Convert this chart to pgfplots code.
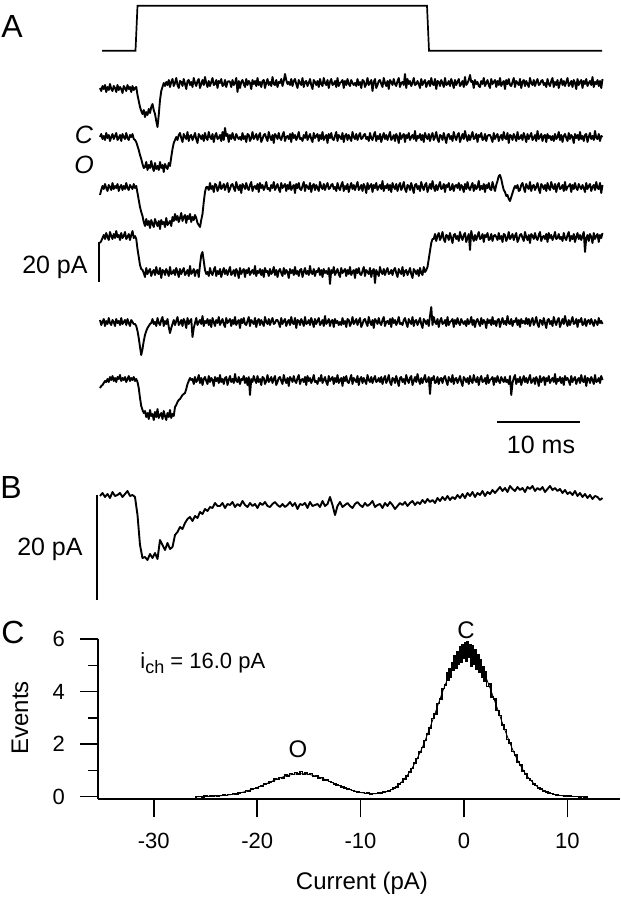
\documentclass[border=0pt]{standalone}
\usepackage{fontspec}
\setmainfont{Liberation Sans}
\usepackage{pgfplots}
\pgfplotsset{compat=1.18}
\usepackage{pgfplotstable}
\tikzset{trace/.style={black, line width=0.95pt, line join=round}}
\newcommand{\labfont}{\fontsize{12.5}{14}\selectfont}
\newcommand{\histfont}{\fontsize{12}{14}\selectfont}
\newcommand{\tickfont}{\fontsize{11}{13}\selectfont}
\newcommand{\panfont}{\fontsize{16}{18}\selectfont}

\pgfplotstableread{
x y
-26.00 0.00
-25.75 0.01
-25.50 0.01
-25.25 0.00
-25.00 0.02
-24.75 0.01
-24.50 0.03
-24.25 0.02
-24.00 0.04
-23.75 0.03
-23.50 0.05
-23.25 0.06
-23.00 0.05
-22.75 0.09
-22.50 0.08
-22.25 0.12
-22.00 0.11
-21.75 0.15
-21.50 0.17
-21.25 0.16
-21.00 0.23
-20.75 0.21
-20.50 0.29
-20.25 0.31
-20.00 0.34
-19.75 0.39
-19.50 0.41
-19.25 0.48
-19.00 0.50
-18.75 0.56
-18.50 0.58
-18.25 0.67
-18.00 0.66
-17.75 0.74
-17.50 0.72
-17.25 0.83
-17.00 0.79
-16.75 0.88
-16.50 0.84
-16.25 0.93
-16.00 0.86
-15.75 0.97
-15.50 0.85
-15.25 0.91
-15.00 0.84
-14.75 0.88
-14.50 0.78
-14.25 0.80
-14.00 0.72
-13.75 0.74
-13.50 0.64
-13.25 0.63
-13.00 0.58
-12.75 0.55
-12.50 0.49
-12.25 0.45
-12.00 0.42
-11.75 0.37
-11.50 0.33
-11.25 0.30
-11.00 0.27
-10.75 0.24
-10.50 0.20
-10.25 0.19
-10.00 0.16
-9.75 0.17
-9.50 0.12
-9.25 0.14
-9.00 0.11
-8.75 0.13
-8.50 0.12
-8.25 0.15
-8.00 0.14
-7.75 0.18
-7.50 0.20
-7.25 0.22
-7.00 0.28
-6.75 0.33
-6.50 0.38
-6.25 0.49
-6.00 0.55
-5.75 0.68
-5.50 0.79
-5.25 0.95
-5.00 1.08
-4.75 1.29
-4.50 1.46
-4.25 1.71
-4.00 1.88
-3.75 2.14
-3.50 2.38
-3.25 2.62
-3.00 2.98
-2.75 3.14
-2.50 3.55
-2.25 3.72
-2.00 4.12
-1.750 4.25
-1.625 4.70
-1.500 4.45
-1.375 4.85
-1.250 4.55
-1.125 5.10
-1.000 4.80
-0.875 5.35
-0.750 4.90
-0.625 5.50
-0.500 5.05
-0.375 5.70
-0.250 5.10
-0.125 5.80
0.000 5.25
0.125 5.85
0.250 5.15
0.375 5.90
0.500 5.30
0.625 5.80
0.750 4.95
0.875 5.75
1.000 5.05
1.125 5.60
1.250 4.85
1.375 5.40
1.500 4.75
1.625 5.20
1.750 4.55
1.875 4.95
2.000 4.40
2.125 4.75
2.250 4.20
2.50 4.28
2.75 3.80
3.00 3.72
3.25 3.28
3.50 3.10
3.75 2.72
4.00 2.56
4.25 2.18
4.50 2.05
4.75 1.72
5.00 1.58
5.25 1.33
5.50 1.20
5.75 0.98
6.00 0.87
6.25 0.70
6.50 0.62
6.75 0.49
7.00 0.43
7.25 0.34
7.50 0.29
7.75 0.22
8.00 0.19
8.25 0.14
8.50 0.12
8.75 0.09
9.00 0.07
9.25 0.05
9.50 0.05
9.75 0.03
10.00 0.03
10.25 0.02
10.50 0.01
10.75 0.01
11.00 0.01
11.25 0.00
11.50 0.01
11.75 0.00
12.00 0.00
}\histdata

\pgfplotstableread{
x y
-26 0.004
-25 0.011
-24 0.027
-23 0.059
-22 0.119
-21 0.216
-20 0.351
-19 0.517
-18 0.684
-17 0.816
-16 0.878
-15 0.851
-14 0.744
-13 0.585
-12 0.415
-11 0.269
-10 0.165
-9 0.117
-8 0.142
-7 0.273
-6 0.568
-5 1.097
-4 1.90
-3 2.94
-2 4.06
-1 4.99
0 5.47
1 5.35
2 4.66
3 3.62
4 2.50
5 1.545
6 0.85
7 0.417
8 0.182
9 0.071
10 0.025
11 0.008
12 0.002
}\fitdata

\begin{document}
\begin{tikzpicture}[x=1pt,y=1pt]
\path[use as bounding box] (0pt,0pt) rectangle (310.5pt,450pt);
\begin{axis}[at={(0pt,0pt)}, anchor=south west, width=310.5pt, height=450pt,
  scale only axis, xmin=0, xmax=621, ymin=0, ymax=900, y dir=reverse,
  hide axis, clip=false]
% stimulus step
\addplot[black, line width=0.85pt] coordinates {(102,50.7) (135.5,50.7) (137.5,5.7) (427,5.7) (429,50.7) (602,50.7)};
% trace 1
\addplot[trace] table[row sep=\\, header=false, x expr=100+1.25*\coordindex, y expr=\thisrowno{0}+83] {
5\\8\\3\\6\\2\\9\\4\\7\\1\\6\\8\\3\\5\\9\\2\\7\\4\\6\\10\\3\\5\\8\\2\\6\\4\\9\\3\\7\\5\\4\\
12\\18\\24\\28\\31\\27\\34\\29\\32\\26\\30\\24\\21\\27\\31\\38\\44\\32\\17\\8\\4\\0\\3\\-1\\
2\\-3\\4\\-1\\-4\\3\\0\\-5\\2\\5\\-2\\-1\\3\\-4\\1\\6\\-2\\-3\\2\\-1\\4\\-5\\0\\3\\-2\\-4\\5\\1\\-3\\2\\-6\\0\\4\\-2\\3\\-1\\-5\\2\\1\\-3\\5\\-2\\0\\-4\\3\\2\\-3\\4\\-1\\-2\\
-1\\4\\-3\\2\\0\\-5\\9\\-2\\5\\-1\\-3\\1\\4\\-4\\2\\-2\\0\\6\\-3\\1\\-2\\3\\-5\\2\\-1\\4\\-2\\-3\\5\\0\\-4\\2\\-1\\3\\-6\\1\\2\\-3\\4\\-1\\0\\-4\\3\\-2\\-9\\-3\\1\\-1\\2\\-4\\
3\\-2\\-4\\1\\5\\-3\\0\\2\\-5\\4\\-1\\-2\\3\\0\\-4\\2\\6\\-3\\-1\\2\\-2\\4\\-4\\1\\3\\-5\\0\\2\\-3\\5\\-1\\-4\\2\\1\\-2\\4\\-5\\3\\0\\-1\\-3\\5\\-2\\2\\-4\\1\\3\\-3\\0\\2\\
0\\3\\-4\\2\\-1\\5\\-3\\-2\\4\\1\\-5\\2\\0\\-3\\8\\-1\\-4\\5\\2\\-2\\-3\\1\\4\\-5\\0\\3\\-2\\6\\-3\\-1\\2\\-4\\1\\3\\-2\\-5\\4\\0\\-1\\2\\-9\\5\\-4\\1\\-2\\3\\0\\-5\\2\\1\\
-2\\1\\5\\-4\\2\\-1\\-3\\4\\0\\-2\\3\\-5\\1\\2\\-4\\6\\-2\\-1\\3\\-3\\0\\4\\-5\\2\\1\\-2\\3\\-4\\0\\5\\-3\\2\\-1\\-4\\3\\1\\-2\\4\\-6\\2\\0\\-3\\-8\\-1\\-2\\5\\-3\\1\\-1\\3\\
4\\-2\\1\\-5\\3\\0\\-3\\2\\5\\-4\\1\\-1\\-3\\4\\-2\\2\\-5\\3\\0\\-2\\6\\-3\\1\\-4\\2\\3\\-1\\-5\\4\\-2\\0\\2\\-4\\5\\-1\\-3\\3\\-2\\1\\4\\-5\\0\\2\\-3\\3\\-1\\-4\\2\\1\\-2\\
-3\\2\\0\\4\\-4\\1\\3\\-2\\-5\\4\\-1\\2\\-3\\5\\0\\-4\\2\\-2\\3\\-1\\-5\\3\\1\\-2\\4\\-3\\0\\6\\-4\\2\\-1\\-3\\5\\-2\\1\\-4\\3\\0\\-2\\2\\-6\\4\\-1\\1\\-3\\3\\-2\\5\\-4\\
};
% trace 2
\addplot[trace] table[row sep=\\, header=false, x expr=100+1.25*\coordindex, y expr=\thisrowno{0}+137] {
0\\-3\\2\\-1\\3\\-4\\1\\-2\\4\\0\\-3\\2\\-1\\-4\\3\\1\\-2\\4\\-3\\0\\2\\-4\\1\\3\\-2\\0\\-3\\2\\
3\\5\\9\\13\\18\\22\\27\\31\\30\\25\\33\\28\\31\\24\\30\\34\\26\\32\\29\\33\\25\\31\\28\\35\\27\\30\\32\\26\\29\\20\\12\\6\\3\\0\\
3\\-2\\-4\\1\\5\\-3\\0\\2\\-5\\4\\-1\\-2\\3\\0\\-4\\2\\6\\-3\\-1\\2\\-2\\4\\-4\\1\\3\\-5\\0\\2\\-3\\5\\-1\\-4\\2\\1\\-2\\4\\-5\\3\\-9\\-1\\-3\\5\\-2\\2\\-4\\1\\3\\-3\\0\\2\\
0\\3\\-4\\2\\-1\\5\\-3\\-2\\4\\1\\-5\\2\\0\\-3\\3\\-1\\-4\\5\\2\\-2\\-3\\1\\4\\-5\\0\\3\\-2\\6\\-3\\-1\\2\\-4\\1\\3\\-2\\-5\\4\\0\\-1\\2\\-3\\5\\-4\\1\\-2\\3\\0\\-5\\2\\1\\
4\\-2\\1\\-5\\3\\0\\-3\\2\\5\\-4\\1\\-1\\-3\\4\\-2\\2\\-5\\3\\0\\-2\\6\\-3\\1\\-4\\2\\3\\-1\\-5\\4\\-2\\0\\2\\-4\\5\\-1\\-3\\3\\-2\\1\\4\\-5\\0\\2\\-3\\3\\-1\\-4\\2\\1\\-2\\
-3\\2\\0\\4\\-4\\1\\3\\-2\\-5\\4\\-1\\2\\-3\\5\\0\\-4\\2\\-2\\3\\-1\\-5\\3\\1\\-2\\4\\-3\\0\\6\\-4\\2\\-1\\-3\\5\\-2\\1\\-4\\3\\0\\-2\\2\\-6\\4\\-1\\1\\-3\\3\\-2\\5\\-4\\0\\
2\\-3\\4\\-1\\-4\\3\\0\\-5\\2\\5\\-2\\-1\\3\\-4\\1\\6\\-2\\-3\\2\\-1\\4\\-5\\0\\3\\-2\\-4\\5\\1\\-3\\2\\-6\\0\\4\\-2\\3\\-1\\-5\\2\\1\\-3\\5\\-2\\0\\-4\\3\\2\\-3\\4\\-1\\-2\\
-2\\1\\5\\-4\\2\\-1\\-3\\4\\0\\-2\\3\\-5\\1\\2\\-4\\6\\-2\\-1\\3\\-3\\0\\4\\-5\\2\\1\\-2\\3\\-4\\0\\5\\-3\\2\\-1\\-4\\3\\1\\-2\\4\\-6\\2\\0\\-3\\4\\-1\\-2\\5\\-3\\1\\-1\\3\\
-1\\4\\-3\\2\\0\\-5\\3\\-2\\5\\-1\\-3\\1\\4\\-4\\2\\-2\\0\\6\\-3\\1\\-2\\3\\-5\\2\\-1\\4\\-2\\-3\\5\\0\\-4\\2\\-1\\3\\-6\\1\\2\\-3\\4\\-1\\0\\
};
% trace 3
\addplot[trace] table[row sep=\\, header=false, x expr=100+1.25*\coordindex, y expr=\thisrowno{0}+187] {
8\\3\\-1\\2\\-3\\1\\4\\-2\\0\\3\\-4\\2\\-1\\1\\-3\\4\\0\\-2\\3\\-1\\2\\-4\\1\\3\\-2\\0\\2\\-3\\1\\-1\\
6\\13\\20\\25\\29\\
35\\39\\32\\38\\34\\41\\33\\37\\40\\32\\36\\39\\34\\42\\33\\37\\35\\40\\31\\38\\36\\34\\39\\
30\\34\\27\\33\\29\\35\\31\\26\\34\\30\\28\\36\\29\\32\\27\\35\\30\\33\\28\\31\\36\\38\\
40\\33\\27\\15\\5\\0\\
0\\3\\-4\\2\\-1\\5\\-3\\-2\\4\\1\\-5\\2\\0\\-3\\3\\-1\\-4\\5\\2\\-2\\-3\\1\\4\\-5\\0\\3\\-2\\6\\-3\\-1\\2\\-4\\1\\3\\-2\\-5\\4\\0\\-1\\2\\-3\\5\\-4\\1\\-2\\3\\0\\-5\\2\\1\\
4\\-2\\1\\-5\\3\\0\\-3\\2\\5\\-4\\1\\-1\\-3\\4\\-2\\2\\-5\\3\\0\\-2\\6\\-3\\1\\-4\\2\\3\\-1\\-5\\4\\-2\\0\\2\\-4\\5\\-1\\-3\\3\\-2\\1\\4\\-5\\0\\2\\-3\\3\\-1\\-4\\2\\1\\-2\\
-3\\2\\0\\4\\-4\\1\\3\\-2\\-5\\4\\-1\\2\\-3\\5\\0\\-4\\2\\-2\\3\\-1\\-5\\3\\1\\-2\\4\\-3\\0\\6\\-4\\2\\-1\\-3\\5\\-2\\1\\-4\\3\\0\\-2\\2\\-6\\4\\-1\\1\\-3\\3\\-2\\5\\-4\\0\\
2\\-3\\4\\-1\\-4\\3\\0\\-5\\2\\5\\-2\\-1\\3\\-4\\1\\6\\-2\\-3\\2\\-1\\4\\-5\\0\\3\\-2\\-4\\5\\1\\-3\\2\\-6\\0\\4\\-2\\3\\-1\\-5\\2\\1\\-3\\5\\-2\\0\\-4\\3\\2\\-3\\4\\-1\\-2\\
1\\-4\\3\\-2\\0\\5\\-3\\2\\-5\\1\\3\\-1\\-4\\4\\-2\\2\\0\\-6\\3\\-1\\2\\-3\\5\\-2\\1\\-4\\2\\3\\-5\\0\\4\\-2\\-6\\-11\\-12\\-8\\-2\\3\\5\\9\\8\\12\\14\\10\\6\\2\\-1\\1\\-2\\4\\
3\\-2\\-4\\1\\5\\-3\\0\\2\\-5\\4\\-1\\-2\\3\\0\\-4\\2\\6\\-3\\-1\\2\\-2\\4\\-4\\1\\3\\-5\\0\\2\\-3\\5\\-1\\-4\\2\\1\\-2\\4\\-5\\3\\0\\-1\\-3\\5\\-2\\2\\-4\\1\\3\\-3\\0\\2\\
-2\\1\\5\\-4\\2\\-1\\-3\\4\\0\\-2\\3\\-5\\1\\2\\-4\\6\\-2\\
};
% trace 4
\addplot[trace] table[row sep=\\, header=false, x expr=100+1.25*\coordindex, y expr=\thisrowno{0}+237] {
6\\4\\1\\-2\\2\\-4\\0\\3\\-5\\-1\\2\\-3\\1\\-6\\0\\-2\\3\\-4\\1\\-1\\-5\\2\\0\\-3\\3\\-2\\-6\\1\\-1\\2\\
12\\20\\28\\32\\
33\\36\\40\\31\\37\\34\\32\\39\\35\\33\\38\\30\\36\\37\\31\\41\\33\\34\\38\\32\\35\\39\\30\\37\\36\\33\\38\\31\\35\\40\\32\\37\\34\\31\\38\\36\\33\\39\\29\\37\\35\\32\\39\\34\\33\\40\\28\\18\\15\\24\\
33\\37\\35\\39\\31\\36\\38\\33\\30\\39\\34\\37\\32\\40\\35\\31\\37\\33\\38\\34\\30\\38\\36\\33\\39\\32\\35\\41\\31\\37\\34\\32\\40\\33\\36\\31\\38\\35\\33\\37\\29\\39\\34\\36\\32\\38\\33\\40\\31\\35\\
34\\39\\32\\37\\35\\30\\38\\33\\40\\34\\32\\36\\39\\31\\37\\33\\35\\41\\32\\36\\33\\38\\30\\37\\34\\39\\33\\32\\40\\35\\31\\37\\34\\38\\29\\36\\37\\32\\39\\34\\35\\31\\38\\33\\40\\32\\36\\34\\37\\31\\
47\\33\\36\\30\\38\\35\\32\\37\\40\\31\\36\\34\\32\\39\\33\\37\\30\\38\\35\\33\\41\\32\\36\\31\\37\\38\\34\\30\\39\\33\\35\\37\\31\\40\\34\\32\\46\\33\\36\\39\\30\\35\\37\\32\\38\\34\\31\\37\\36\\33\\
38\\33\\31\\36\\40\\32\\35\\37\\30\\39\\34\\33\\38\\35\\31\\37\\41\\32\\34\\37\\33\\39\\31\\36\\38\\30\\35\\
33\\30\\22\\14\\6\\2\\
2\\-3\\4\\-1\\-4\\3\\0\\-5\\2\\5\\-2\\-1\\3\\-4\\1\\6\\-2\\-3\\2\\-1\\4\\-5\\0\\3\\-2\\-4\\5\\1\\-3\\13\\-6\\0\\4\\-2\\3\\-1\\-5\\2\\1\\-3\\5\\-2\\0\\-4\\3\\2\\-3\\4\\-1\\-2\\
0\\3\\-4\\2\\-1\\5\\-3\\-2\\4\\1\\-5\\2\\0\\-3\\3\\-1\\-4\\5\\2\\-2\\-3\\1\\4\\-5\\0\\3\\-2\\6\\-3\\-1\\2\\-4\\1\\3\\-2\\-5\\4\\0\\-1\\2\\-3\\5\\-4\\1\\-2\\3\\0\\-5\\2\\1\\
-3\\2\\0\\4\\-4\\1\\3\\-2\\-5\\4\\-1\\2\\-3\\5\\0\\-4\\2\\-2\\3\\-1\\-5\\15\\1\\-2\\4\\-3\\0\\6\\-4\\2\\-1\\-3\\5\\-2\\1\\-4\\
};
% trace 5
\addplot[trace] table[row sep=\\, header=false, x expr=100+1.25*\coordindex, y expr=\thisrowno{0}+322] {
-2\\3\\0\\-3\\4\\-1\\2\\-4\\1\\3\\-2\\0\\4\\-3\\1\\-1\\3\\-4\\2\\0\\-2\\3\\-3\\1\\4\\-2\\0\\2\\
2\\4\\9\\16\\25\\33\\27\\19\\13\\9\\6\\4\\2\\1\\
-3\\2\\0\\4\\-4\\1\\3\\-2\\-5\\4\\-1\\2\\-3\\5\\11\\6\\2\\-2\\3\\-1\\-5\\3\\1\\-2\\4\\-3\\0\\6\\-4\\2\\-1\\-3\\15\\6\\1\\-4\\3\\0\\-2\\2\\-6\\4\\-1\\1\\-3\\3\\-2\\5\\-4\\0\\
4\\-2\\1\\-5\\3\\0\\-3\\2\\5\\-4\\1\\-1\\-3\\4\\-2\\2\\-5\\3\\0\\-2\\6\\-3\\1\\-4\\2\\3\\-1\\-5\\4\\-2\\0\\2\\-4\\5\\-1\\-3\\3\\-2\\1\\4\\-5\\0\\2\\-3\\3\\-1\\-4\\2\\1\\-2\\
-2\\1\\5\\-4\\2\\-1\\-3\\4\\0\\-2\\3\\-5\\1\\2\\-4\\6\\-2\\-1\\3\\-3\\0\\4\\-5\\2\\1\\-2\\3\\-4\\0\\5\\-3\\2\\-1\\-4\\3\\1\\-2\\4\\-6\\2\\0\\-3\\4\\-1\\-2\\5\\-3\\1\\-1\\3\\
0\\3\\-4\\2\\-1\\5\\-3\\-2\\4\\1\\-5\\2\\0\\-3\\3\\-1\\-4\\5\\2\\-2\\-3\\1\\4\\-5\\0\\3\\-2\\6\\-3\\-1\\2\\-4\\1\\3\\-2\\-5\\4\\0\\-1\\2\\-3\\5\\-4\\1\\-2\\3\\0\\-5\\2\\1\\
3\\-2\\-4\\1\\5\\-3\\0\\2\\-5\\4\\-1\\-2\\3\\0\\-4\\2\\6\\-3\\-1\\2\\-2\\4\\-6\\-15\\3\\-5\\0\\2\\-3\\5\\-1\\-4\\2\\1\\-2\\4\\-5\\3\\0\\-1\\-3\\5\\-2\\2\\-4\\1\\3\\-3\\0\\2\\
-1\\4\\-3\\2\\0\\-5\\3\\-2\\5\\-1\\-3\\1\\4\\-4\\2\\-2\\0\\6\\-3\\1\\-2\\3\\-5\\2\\-1\\4\\-2\\-3\\5\\0\\-4\\2\\-1\\3\\-6\\1\\2\\-3\\4\\-1\\0\\-4\\3\\-2\\5\\-3\\1\\-1\\2\\-4\\
2\\-3\\4\\-1\\-4\\3\\0\\-5\\2\\5\\-2\\-1\\3\\-4\\1\\6\\-2\\-3\\2\\-1\\4\\-5\\0\\3\\-2\\-4\\5\\1\\-3\\2\\-6\\0\\4\\-2\\3\\-1\\-5\\2\\1\\-3\\5\\-2\\0\\-4\\3\\2\\-3\\4\\-1\\-2\\
2\\-3\\1\\4\\-2\\0\\3\\-4\\1\\-1\\2\\
};
% trace 6
\addplot[trace] table[row sep=\\, header=false, x expr=100+1.25*\coordindex, y expr=\thisrowno{0}+380] {
8\\6\\5\\3\\1\\2\\
-1\\2\\-3\\0\\-4\\1\\-2\\2\\-3\\-1\\-5\\1\\-2\\0\\-3\\2\\-1\\-4\\1\\-2\\0\\-3\\1\\-1\\
2\\8\\18\\26\\30\\33\\
31\\37\\33\\39\\30\\36\\34\\40\\32\\37\\29\\38\\35\\33\\39\\31\\36\\40\\33\\37\\30\\38\\34\\36\\
27\\25\\22\\20\\19\\17\\15\\14\\13\\9\\4\\1\\-2\\0\\
-1\\4\\-3\\2\\0\\-5\\3\\-2\\5\\-1\\-3\\1\\4\\-4\\2\\-2\\0\\6\\-3\\1\\-2\\3\\-5\\2\\-1\\4\\-2\\-3\\5\\0\\-4\\2\\-1\\3\\-6\\1\\2\\-3\\4\\-1\\0\\-4\\3\\-2\\5\\-3\\15\\-1\\2\\-4\\
0\\3\\-4\\2\\-1\\5\\-3\\-2\\4\\1\\-5\\2\\0\\-3\\3\\-1\\-4\\5\\2\\-2\\-3\\1\\4\\-5\\0\\3\\-2\\6\\-3\\-1\\2\\-4\\1\\3\\-2\\-5\\4\\0\\-1\\2\\-3\\5\\-4\\1\\-2\\3\\0\\-5\\2\\1\\
4\\-2\\1\\-5\\3\\0\\-3\\2\\5\\-4\\1\\-1\\-3\\4\\-2\\2\\-5\\3\\0\\-2\\6\\-3\\1\\-4\\2\\3\\-1\\-5\\4\\-2\\0\\2\\-4\\5\\-1\\-3\\3\\-2\\1\\4\\-5\\0\\2\\-3\\3\\-1\\-4\\2\\1\\-2\\
2\\-3\\4\\-1\\-4\\3\\0\\-5\\2\\5\\-2\\-1\\3\\-4\\1\\6\\-2\\-3\\2\\-1\\4\\-5\\0\\3\\-2\\-4\\5\\1\\-3\\2\\-6\\0\\4\\-2\\3\\-1\\-5\\2\\1\\-3\\14\\-2\\0\\-4\\3\\2\\-3\\4\\-1\\-2\\
3\\-2\\-4\\1\\5\\-3\\0\\2\\-5\\4\\-1\\-2\\3\\0\\-4\\2\\6\\-3\\-1\\2\\-2\\4\\-4\\1\\3\\-5\\0\\2\\-3\\5\\-1\\-4\\2\\1\\-2\\4\\-5\\3\\0\\-1\\-3\\5\\-2\\2\\-4\\1\\3\\-3\\0\\2\\
-3\\2\\0\\4\\-4\\15\\3\\-2\\-5\\4\\-1\\2\\-3\\5\\0\\-4\\2\\-2\\3\\-1\\-5\\3\\1\\-2\\4\\-3\\0\\6\\-4\\2\\-1\\-3\\5\\-2\\1\\-4\\3\\0\\-2\\2\\-6\\4\\-1\\1\\-3\\3\\-2\\5\\-4\\0\\
-2\\1\\5\\-4\\2\\-1\\-3\\4\\0\\-2\\3\\-5\\1\\2\\-4\\6\\-2\\-1\\3\\-3\\0\\4\\-5\\2\\1\\-2\\3\\-4\\0\\
};
% panel B average trace
\addplot[trace] table[row sep=\\, header=false, x expr=100+2.5*\coordindex, y expr=\thisrowno{0}+505] {
-9\\-12\\-8\\-11\\-7\\-13\\-9\\-10\\-12\\-8\\-11\\-14\\-9\\-10\\-8\\
10\\40\\53\\52\\55\\49\\53\\48\\54\\35\\40\\45\\38\\44\\42\\30\\27\\22\\24\\18\\14\\12\\16\\11\\13\\7\\9\\4\\6\\2\\3\\-2\\1\\
1\\-2\\3\\-1\\0\\-3\\2\\-1\\1\\-4\\0\\2\\-2\\1\\-1\\3\\-2\\0\\-3\\1\\2\\-1\\-3\\0\\2\\
-1\\2\\0\\-3\\1\\-2\\4\\-1\\0\\-2\\3\\-3\\1\\0\\-1\\2\\-4\\1\\-1\\-8\\0\\10\\1\\-3\\2\\
0\\-2\\1\\3\\-1\\-3\\0\\2\\-2\\1\\-1\\-4\\2\\0\\-1\\3\\-2\\1\\-3\\0\\4\\
1\\-2\\0\\-3\\1\\-2\\-4\\0\\-3\\-1\\-5\\-2\\-6\\-3\\-5\\-2\\-7\\-4\\-8\\-5\\-9\\-5\\-8\\-6\\-10\\-7\\-11\\-7\\-12\\-9\\-13\\-8\\-12\\-10\\-14\\-9\\-13\\-11\\-15\\-12\\
-15\\-18\\-14\\-17\\-13\\-19\\-16\\-14\\-18\\-15\\-17\\-13\\-18\\-16\\-19\\-14\\-17\\-15\\-18\\-13\\-16\\-19\\-15\\-17\\
-14\\-16\\-12\\-15\\-11\\-13\\-10\\-14\\-9\\-12\\-8\\-11\\-7\\-10\\-6\\-9\\-8\\-5\\-7\\
};
% scale bars
\addplot[black, line width=0.9pt] coordinates {(99.3,241.7) (99.3,281.7)};
\addplot[black, line width=0.9pt] coordinates {(497,421.7) (580,421.7)};
\addplot[black, line width=0.9pt] coordinates {(97,495) (97,600)};
% labels
\node[font=\panfont, anchor=base west, inner sep=0pt] at (axis cs:1,37) {A};
\node[font=\panfont, anchor=base west, inner sep=0pt] at (axis cs:0,498) {B};
\node[font=\panfont, anchor=base west, inner sep=0pt] at (axis cs:1,643) {C};
\node[font=\labfont\itshape, anchor=base, inner sep=0pt] at (axis cs:84,143) {C};
\node[font=\labfont\itshape, anchor=base, inner sep=0pt] at (axis cs:84,173) {O};
\node[font=\labfont, anchor=base east, inner sep=0pt] at (axis cs:88,273) {20 pA};
\node[font=\labfont, anchor=base, inner sep=0pt] at (axis cs:541,453) {10 ms};
\node[font=\labfont, anchor=base east, inner sep=0pt] at (axis cs:83,555) {20 pA};
\node[font=\histfont, anchor=base, inner sep=0pt] at (axis cs:362,889) {Current (pA)};
\node[font=\histfont, anchor=base, rotate=90, inner sep=0pt] at (axis cs:28,718) {Events};
\node[font=\tickfont, anchor=base west, inner sep=0pt] at (axis cs:140,668) {i\raisebox{-0.45ex}{\fontsize{9}{10}\selectfont ch} = 16.0 pA};
\node[font=\histfont, anchor=base, inner sep=0pt] at (axis cs:298,757) {O};
\node[font=\histfont, anchor=base, inner sep=0pt] at (axis cs:466,638) {C};
\end{axis}

\begin{axis}[at={(49pt,50.3pt)}, anchor=south west, width=261pt, height=80.2pt,
  scale only axis, xmin=-35.4, xmax=15.1, ymin=-0.1, ymax=6,
  axis x line*=bottom, axis y line*=left,
  axis line style={black, line width=0.7pt, -},
  x axis line style={line width=1.1pt},
  xtick={-30,-20,-10,0,10}, ytick={0,2,4,6}, minor ytick={1,3,5},
  tick align=outside, major tick length=9pt, minor tick length=5pt,
  tick style={black, line width=0.7pt},
  tick label style={font=\tickfont},
  xticklabel style={yshift=-4.5pt},
  yticklabel style={xshift=-4pt},
  /pgf/number format/assume math mode=true,
  clip=false]
\addplot[black, line width=0.4pt, smooth] table[x=x, y=y] {\fitdata};
\addplot[black, line width=0.75pt, const plot mark mid] table[x=x, y=y] {\histdata};
\end{axis}
\end{tikzpicture}
\end{document}
